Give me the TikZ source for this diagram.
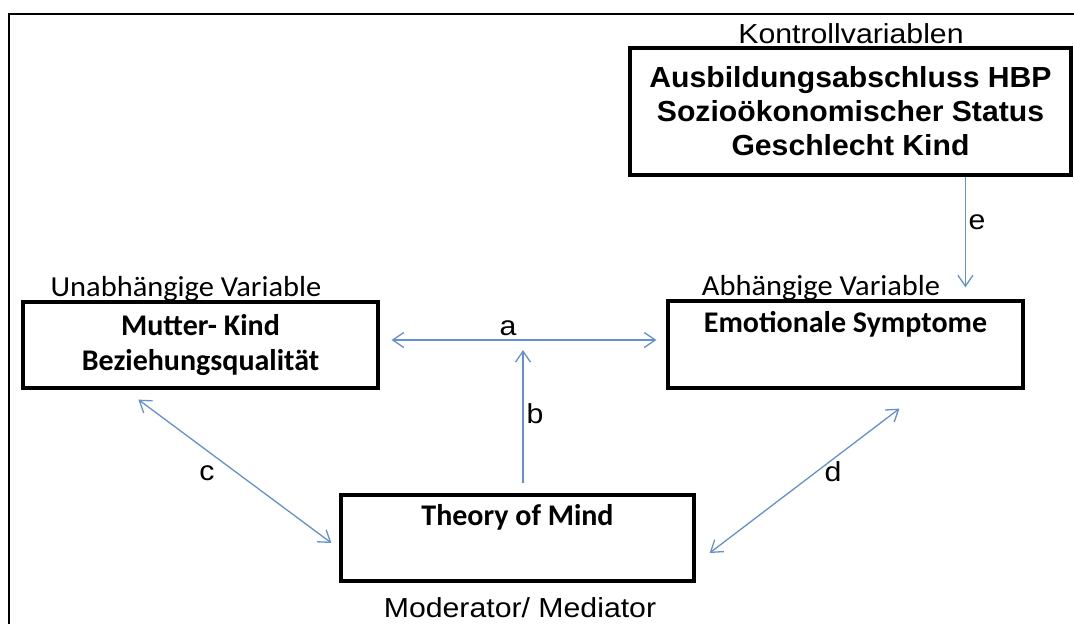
\documentclass[tikz,border=0pt]{standalone}
\usepackage{fontspec}
\setmainfont{Liberation Sans}[FakeStretch=1.1]
\newfontfamily\arialB{Liberation Sans}[FakeStretch=1.04]
\newfontfamily\calfont{Carlito}[FakeStretch=1.05]
\newfontfamily\calbfont{Carlito}[FakeStretch=1.0]
\usetikzlibrary{arrows.meta,calc}
\definecolor{arrblue}{RGB}{100,145,205}
\begin{document}
\begin{tikzpicture}[x=1pt,y=-1pt,
  nodebox/.style={draw, line width=3.2pt, inner sep=0pt, align=center},
  arial/.style={font=\fontsize{27.5}{33}\selectfont},
  arialbold/.style={font=\arialB\fontsize{29}{34}\selectfont\bfseries},
  calreg/.style={font=\calfont\fontsize{29}{35}\selectfont},
  calbold/.style={font=\calbfont\fontsize{30}{35}\selectfont\bfseries},
  conn/.style={draw=arrblue, line width=1.3pt, arrows={-Straight Barb[length=11pt,width=15pt,line width=1.3pt]}},
  conn2/.style={draw=arrblue, line width=1.3pt, arrows={Straight Barb[length=11pt,width=15pt,line width=1.3pt]-Straight Barb[length=11pt,width=15pt,line width=1.3pt]}},
  lbl/.style={arial, inner sep=0pt}
]
\useasboundingbox (0,0) rectangle (1074,624);
% frame
\draw[line width=2.4pt] (9,624) -- (9,14) -- (1074,14);

% boxes
\node[nodebox, arialbold, minimum width=441pt, minimum height=127pt] (kv) at (850.5,111.5)
  {\raisebox{-3pt}{Ausbildungsabschluss HBP}\\\raisebox{-3pt}{Sozioökonomischer Status}\\\raisebox{-3pt}{Geschlecht Kind}};
\node[nodebox, calbold, minimum width=355pt, minimum height=86pt] (iv) at (200.5,345)
  {Mutter- Kind\\Beziehungsqualität};
\node[nodebox, calbold, minimum width=355pt, minimum height=87pt] (dv) at (845.5,344.5)
  {Emotionale Symptome\\\strut};
\node[nodebox, calbold, minimum width=353pt, minimum height=86pt] (tom) at (517.5,538)
  {Theory of Mind\\\strut};

% outer labels
\node[lbl, anchor=base] (kvlbl) at (851,43) {Kontrollvariablen};
\node[calreg, inner sep=0pt, anchor=base] (ivlbl) at (186,296) {Unabhängige Variable};
\node[calreg, inner sep=0pt, anchor=base] (dvlbl) at (821,295) {Abhängige Variable};
\node[lbl, anchor=base] (tomlbl) at (520,617) {Moderator/ Mediator};

% connectors
\coordinate (a1) at ($(iv.east)+(12,-5)$);
\coordinate (a2) at ($(dv.west)+(-10,-4.5)$);
\draw[conn2] (a1) -- (a2);
\coordinate (b1) at ($(tom.north)+(5.5,-10)$);
\coordinate (b2) at (b1 |- 0,350);
\draw[conn] (b1) -- (b2);
\coordinate (c1) at ($(iv.south west)+(117,10)$);
\coordinate (c2) at ($(tom.west)+(-8,5)$);
\draw[conn2] (c1) -- (c2);
\coordinate (d1) at ($(dv.south west)+(233,19)$);
\coordinate (d2) at ($(tom.east)+(14,15)$);
\draw[conn2] (d1) -- (d2);
\coordinate (e1) at ($(kv.south west)+(337,0)$);
\coordinate (e2) at ($(dv.north west)+(299,-12)$);
\draw[conn] (e1) -- (e2);

% connector labels
\node[lbl] (la) at (508,328) {a};
\node[lbl] (lb) at (535,414) {b};
\node[lbl] (lc) at (207,473) {c};
\node[lbl] (ld) at (833,472) {d};
\node[lbl] (le) at (977,222) {e};
\end{tikzpicture}
\end{document}
